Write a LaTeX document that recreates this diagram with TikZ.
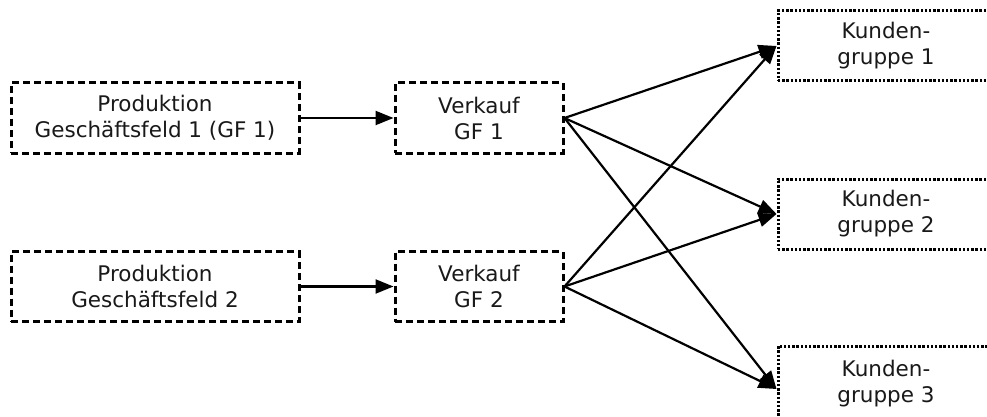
\documentclass[tikz,border=0pt]{standalone}
\usepackage{fontspec}
\setmainfont{DejaVu Sans}
\usetikzlibrary{arrows.meta}
\begin{document}
\begin{tikzpicture}[x=1pt,y=-1pt,
  box/.style={draw,line width=3pt,dash pattern=on 7pt off 4pt,inner sep=0pt,align=center,
    font=\fontsize{21.5}{26}\selectfont,text=black!90},
  pbox/.style={box,minimum width=288pt,minimum height=70pt},
  vbox/.style={box,minimum width=168pt,minimum height=70pt},
  kbox/.style={box,dash pattern=on 2.4pt off 1.8pt,minimum width=216pt,minimum height=70pt},
  conn/.style={line width=2.2pt,-{Triangle[length=18pt,width=14pt]}}]
\path[use as bounding box] (0,0) rectangle (987,417);
\clip (0,0) rectangle (987,417);
\node[pbox] (p1) at (155,118) {Produktion\\Geschäftsfeld 1 (GF 1)};
\node[pbox] (p2) at (155,286.5) {Produktion\\Geschäftsfeld 2};
\node[vbox] (v1) at (479,118) {Verkauf\\GF 1};
\node[vbox] (v2) at (479,286.5) {Verkauf\\GF 2};
\node[kbox] (k1) at (886,46) {Kunden-\\gruppe 1};
\node[kbox] (k2) at (886,214) {Kunden-\\gruppe 2};
\node[kbox,minimum height=76pt] (k3) at (886,384) {Kunden-\\gruppe 3};
\draw[conn] (p1.east) -- (v1.west);
\draw[conn] (p2.east) -- (v2.west);
\draw[conn] (v1.east) -- (k1.west);
\draw[conn] (v1.east) -- (k2.west);
\draw[conn] (v1.east) -- ([yshift=-5pt]k3.west);
\draw[conn] (v2.east) -- (k1.west);
\draw[conn] (v2.east) -- (k2.west);
\draw[conn] (v2.east) -- ([yshift=-5pt]k3.west);
\end{tikzpicture}
\end{document}
